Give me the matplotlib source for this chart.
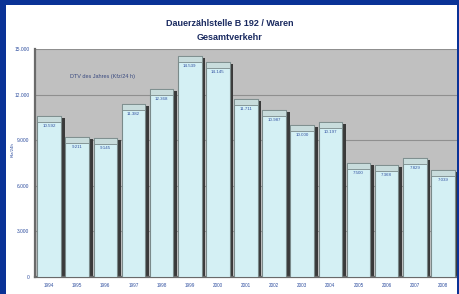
import matplotlib
matplotlib.use("Agg")
import matplotlib.pyplot as plt
from matplotlib.patches import Rectangle

years = ["1994", "1995", "1996", "1997", "1998", "1999", "2000", "2001",
         "2002", "2003", "2004", "2005", "2006", "2007", "2008"]
dtv = [10592, 9211, 9145, 11382, 12368, 14539, 14145, 11711,
       10987, 10000, 10197, 7500, 7368, 7829, 7039]
yticks = [0, 3000, 6000, 9000, 12000, 15000]
title_lines = ["Dauerzählstelle B 192 / Waren", "Gesamtverkehr"]
note = "DTV des Jahres (Kfz/24 h)"
ylabel = "Kfz/24h"

def de(v):
    return f"{v:,.0f}".replace(",", ".")

plt.rcParams['font.family'] = ['Liberation Sans', 'DejaVu Sans']
W, H = 460, 294
fig = plt.figure(figsize=(W / 100, H / 100), dpi=100)
fig.patch.set_facecolor("white")

blue = "#0a3296"
for (x0, y0, w, h) in [(0, 0, 6 / W, 1), (0, 1 - 5 / H, 1, 5 / H), (1 - 3 / W, 0, 3 / W, 1)]:
    fig.patches.append(Rectangle((x0, y0), w, h, transform=fig.transFigure,
                                 facecolor=blue, edgecolor="none", zorder=10))

ax = fig.add_axes([35 / W, 17 / H, 422 / W, 228 / H])
ax.set_facecolor("#c0c0c0")
ax.set_xlim(-0.5, len(years) - 0.5)
ax.set_ylim(0, 15000)
ax.set_yticks(yticks)
ax.set_yticklabels([de(v) for v in yticks], fontsize=3.5, color="#3050a0")
ax.set_xticks(range(len(years)))
ax.set_xticklabels(years, fontsize=3.3, color="#3050a0")
ax.tick_params(length=0, pad=4)
ax.yaxis.grid(True, color="#8f8f8f", linewidth=0.8)
ax.set_axisbelow(True)
for s in ["top", "right"]:
    ax.spines[s].set_visible(False)
for s in ["left", "bottom"]:
    ax.spines[s].set_color("#6a6a6a")
    ax.spines[s].set_linewidth(1.6)

xs = list(range(len(years)))
bw = 0.84
# shadow / side face
ax.bar([x + 0.13 for x in xs], [v - 150 for v in dtv], width=bw, color="#3a3a3a",
       edgecolor="none", zorder=2)
# front face
ax.bar(xs, dtv, width=bw, color="#d4f0f4", edgecolor="#7a8a8a", linewidth=0.8, zorder=3)
# top cap
ax.bar(xs, [380] * len(xs), bottom=[v - 380 for v in dtv], width=bw, color="#c8dcdc",
       edgecolor="#7a8a8a", linewidth=0.6, zorder=4)
for x, v in zip(xs, dtv):
    ax.text(x, v - 520, de(v), ha="center", va="top", fontsize=3.2,
            color="#3050a0", zorder=5)

ax.text(0.75, 13200, note, fontsize=4, color="#3a4a80", ha="left", va="center")
fig.text(13 / W, 1 - 150 / H, ylabel, rotation=90, fontsize=3.2, color="#3050a0",
         ha="center", va="center")

fig.text(230 / W, 1 - 23 / H, title_lines[0], ha="center", va="center",
         fontsize=6.5, fontweight="bold", color="#1a2a60")
fig.text(230 / W, 1 - 38 / H, title_lines[1], ha="center", va="center",
         fontsize=6.5, fontweight="bold", color="#1a2a60")

fig.savefig("out.png", dpi=100, facecolor=fig.get_facecolor())
